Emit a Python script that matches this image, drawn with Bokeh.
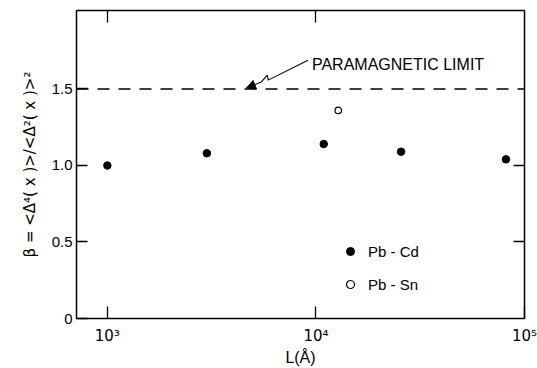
from bokeh.plotting import figure
from bokeh.models import (Range1d, FixedTicker, LinearAxis, LogAxis, Span, Label,
                          Arrow, NormalHead, Legend, LegendItem)
from bokeh.embed import file_html
from bokeh.resources import INLINE

# ---- data ----
pbcd_L = [1000, 3000, 10900, 25600, 81500]
pbcd_beta = [1.00, 1.08, 1.14, 1.09, 1.04]
pbsn_L = [12800]
pbsn_beta = [1.36]
paramagnetic_limit = 1.5
x_ticks = [1000, 10000, 100000]
x_tick_labels = ["10³", "10⁴", "10⁵"]
y_ticks = [0, 0.5, 1.0, 1.5]
y_tick_labels = ["0", "0.5", "1.0", "1.5"]

FONT = "Liberation Sans"
FONT2 = "DejaVu Sans"

p = figure(width=537, height=368, x_axis_type="log", output_backend="svg",
           toolbar_location=None, x_range=Range1d(10**2.852, 1.00001e5),
           y_range=Range1d(0, 2.013),
           min_border_left=76, min_border_right=13, min_border_top=10,
           min_border_bottom=48)
p.xgrid.visible = False
p.ygrid.visible = False
p.outline_line_color = "black"
p.outline_line_width = 1.5
p.background_fill_color = "white"
p.border_fill_color = "white"

# bottom axis
xa = p.xaxis[0]
xa.ticker = FixedTicker(ticks=x_ticks)
xa.major_label_overrides = {t: l for t, l in zip(x_ticks, x_tick_labels)}
xa.major_tick_in = 12
xa.major_tick_out = 0
xa.minor_tick_line_color = None
xa.major_tick_line_width = 1.3
xa.axis_line_color = None
xa.major_label_standoff = 8
xa.major_label_text_font = FONT2
xa.major_label_text_font_size = "15px"
xa.major_label_text_color = "black"
xa.axis_label = "L(Å)"
xa.axis_label_text_font = FONT
xa.axis_label_text_font_style = "normal"
xa.axis_label_text_font_size = "16px"
xa.axis_label_text_color = "black"
xa.axis_label_standoff = 1

# left axis
ya = p.yaxis[0]
ya.ticker = FixedTicker(ticks=y_ticks)
ya.major_label_overrides = {t: l for t, l in zip(y_ticks, y_tick_labels)}
ya.major_tick_in = 11
ya.major_tick_out = 0
ya.minor_tick_line_color = None
ya.major_tick_line_width = 1.3
ya.axis_line_color = None
ya.major_label_standoff = 4
ya.major_label_text_font = FONT
ya.major_label_text_font_size = "15px"
ya.major_label_text_color = "black"
ya.axis_label = "β = <Δ⁴( x )>/<Δ²( x )>²"
ya.axis_label_text_font = FONT2
ya.axis_label_text_font_style = "normal"
ya.axis_label_text_font_size = "15px"
ya.axis_label_text_color = "black"
ya.axis_label_standoff = 10

# right axis (ticks only)
ra = LinearAxis(ticker=FixedTicker(ticks=[0.5, 1.0]), major_tick_in=11, major_tick_out=0,
                minor_tick_line_color=None, axis_line_color=None,
                major_label_text_font_size="2px", major_label_text_alpha=0,
                major_label_standoff=0, major_tick_line_width=1.3)
p.add_layout(ra, "right")
# top axis (ticks only)
ta = LogAxis(ticker=FixedTicker(ticks=[1000, 10000]), major_tick_in=12, major_tick_out=0,
             minor_tick_line_color=None, axis_line_color=None,
             major_label_text_font_size="2px", major_label_text_alpha=0,
             major_label_standoff=0, major_tick_line_width=1.3)
p.add_layout(ta, "above")

# paramagnetic limit
p.add_layout(Span(location=paramagnetic_limit, dimension="width", line_color="black",
                  line_width=1.3, line_dash="12 9"))

# annotation with zigzag arrow
arrow_path_x = [9160, 5905, 5846, 5468]
arrow_path_y = [1.688, 1.558, 1.590, 1.545]
p.line(arrow_path_x, arrow_path_y, line_color="black", line_width=1.1)
p.add_layout(Arrow(end=NormalHead(size=9, fill_color="black", line_color="black"),
                   x_start=5468, y_start=1.545, x_end=4643, y_end=paramagnetic_limit + 0.006,
                   line_color="black", line_width=1.1))
p.add_layout(Label(x=9570, y=1.662, text="PARAMAGNETIC LIMIT", text_font=FONT,
                   text_font_size="16px", text_baseline="middle", text_color="black"))

# data
r1 = p.scatter(pbcd_L, pbcd_beta, size=7.5, marker="circle", fill_color="black",
               line_color="black")
r2 = p.scatter(pbsn_L, pbsn_beta, size=6.5, marker="circle", fill_color="white",
               line_color="black", line_width=1.2)

legend = Legend(items=[LegendItem(label="Pb - Cd", renderers=[r1]),
                       LegendItem(label="Pb - Sn", renderers=[r2])],
                location=(264, 24), border_line_color=None, background_fill_alpha=0,
                padding=0, margin=0, spacing=13, label_height=20, glyph_height=20,
                glyph_width=20, label_standoff=8, label_text_font=FONT,
                label_text_font_size="15px", label_text_color="black")
p.add_layout(legend)

open("out.html", "w").write(file_html(p, INLINE))
